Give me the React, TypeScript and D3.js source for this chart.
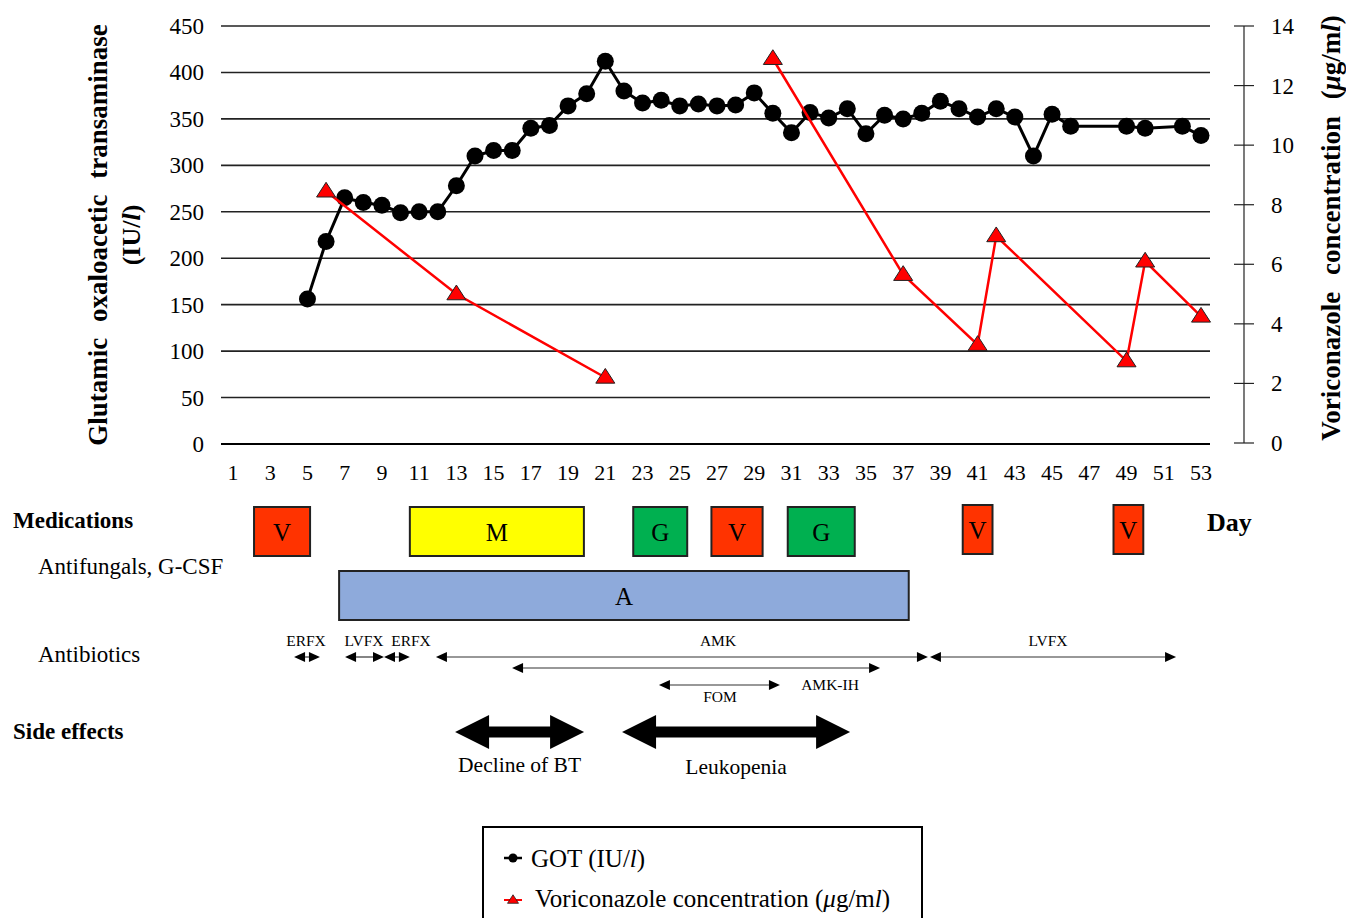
// Clinical course chart: GOT (left axis) and voriconazole level (right axis) over days,
// with medication / antibiotic / side-effect timelines drawn below.
import React from 'react';
import * as d3 from 'd3';

// GOT (IU/l) by day
const gotDays = [5, 6, 7, 8, 9, 10, 11, 12, 13, 14, 15, 16, 17, 18, 19, 20, 21, 22, 23, 24, 25, 26, 27, 28, 29, 30,
  31, 32, 33, 34, 35, 36, 37, 38, 39, 40, 41, 42, 43, 44, 45, 46, 49, 50, 52, 53];
const gotValues = [156, 218, 265, 260, 257, 249, 250, 250, 278, 310, 316, 316, 340, 343, 364, 377, 412, 380, 367, 370,
  364, 366, 364, 365, 378, 356, 335, 357, 351, 361, 334, 354, 350, 356, 369, 361, 352, 361, 352, 310, 355, 342, 342,
  340, 342, 332];

// voriconazole concentration (ug/ml) by day; the line is broken between the two courses
const vrczDays = [6, 13, 21, 30, 37, 41, 42, 49, 50, 53];
const vrczValues = [8.45, 5.0, 2.2, 12.9, 5.65, 3.3, 6.95, 2.75, 6.1, 4.25];
const vrczCourse = [0, 0, 0, 1, 1, 1, 1, 1, 1, 1];

const dayTicks = d3.range(1, 54, 2);
const gotTicks = d3.range(0, 451, 50);
const vrczTicks = d3.range(0, 15, 2);

// medications: label, start day, end day
const medLabels = ['V', 'M', 'G', 'V', 'G', 'V', 'V', 'A'];
const medStart = [2.13, 10.5, 22.5, 26.7, 30.8, 40.2, 48.3, 6.7];
const medEnd = [5.14, 19.85, 25.4, 29.45, 34.4, 41.8, 49.9, 37.3];

// antibiotics
const abLabels = ['ERFX', 'LVFX', 'ERFX', 'AMK', 'LVFX', 'AMK-IH', 'FOM'];
const abStart = [4.28, 7.02, 9.11, 11.9, 38.44, 15.99, 23.88];
const abEnd = [5.67, 9.11, 10.5, 38.33, 51.66, 35.76, 30.38];

// side effects
const seLabels = ['Decline of BT', 'Leukopenia'];
const seStart = [12.93, 21.9];
const seEnd = [19.86, 34.15];

const W = 1346;
const H = 918;
const serif = '"Times New Roman", "Liberation Serif", serif';

const medColor = { V: '#ff3300', M: '#ffff00', G: '#00b050', A: '#8eaadb' };

// layout for the antibiotic rows / labels
const abRowY = [657, 657, 657, 657, 657, 668, 685];
const abLabelX = [306, 364, 411, 718, 1048, 830, 720];
const abLabelY = [646, 646, 646, 646, 646, 690, 702];

export default function App() {
  const x = d3.scaleLinear().domain([1, 53]).range([233, 1201]);
  const yL = d3.scaleLinear().domain([0, 450]).range([444, 26]);
  const yR = d3.scaleLinear().domain([0, 14]).range([443, 26]);

  const gotLine = d3.line<number>().x((d, i) => x(gotDays[i])).y(d => yL(d));
  const vrczLine = d3.line<number>().x(i => x(vrczDays[i])).y(i => yR(vrczValues[i]));
  const courses = d3.groups(d3.range(vrczDays.length), i => vrczCourse[i]).map(g => g[1]);

  const tri = (cx: number, cy: number, s: number) =>
    `M${cx},${cy - s * 0.95} L${cx + s},${cy + s * 0.6} L${cx - s},${cy + s * 0.6} Z`;

  // thin double arrow for antibiotics
  const thinArrow = (x1: number, x2: number, y: number, key: string) => {
    const h = 5, l = 11;
    return (
      <g key={key}>
        <line x1={x1 + l} x2={x2 - l} y1={y} y2={y} stroke="#333" strokeWidth={1.2} />
        <path d={`M${x1},${y} L${x1 + l},${y - h} L${x1 + l},${y + h} Z`} fill="#000" />
        <path d={`M${x2},${y} L${x2 - l},${y - h} L${x2 - l},${y + h} Z`} fill="#000" />
      </g>
    );
  };

  // thick double arrow for side effects
  const bigArrow = (x1: number, x2: number, y: number) => {
    const hh = 17, sh = 5.5, l = 34;
    return `M${x1},${y} L${x1 + l},${y - hh} L${x1 + l},${y - sh} L${x2 - l},${y - sh} L${x2 - l},${y - hh} L${x2},${y}
      L${x2 - l},${y + hh} L${x2 - l},${y + sh} L${x1 + l},${y + sh} L${x1 + l},${y + hh} Z`;
  };

  return (
    <svg width={W} height={H} style={{ position: 'absolute', left: 0, top: 0, background: '#fff' }}
      fontFamily={serif}>
      {/* gridlines */}
      {gotTicks.map(t => (
        <line key={'g' + t} x1={221} x2={1210} y1={yL(t)} y2={yL(t)} stroke={t === 0 ? '#000' : '#222'}
          strokeWidth={t === 0 ? 2 : 1.6} />
      ))}
      {gotTicks.map(t => (
        <text key={'lt' + t} x={204} y={yL(t)} dy="0.35em" textAnchor="end" fontSize={23}>{t}</text>
      ))}
      {dayTicks.map(t => (
        <text key={'xt' + t} x={x(t)} y={480} textAnchor="middle" fontSize={22}>{t}</text>
      ))}

      {/* right axis */}
      <line x1={1244} x2={1244} y1={yR(14)} y2={yR(0)} stroke="#222" strokeWidth={1.2} />
      {vrczTicks.map(t => (
        <g key={'rt' + t}>
          <line x1={1234} x2={1254} y1={yR(t)} y2={yR(t)} stroke="#222" strokeWidth={1.2} />
          <text x={1271} y={yR(t)} dy="0.35em" fontSize={23}>{t}</text>
        </g>
      ))}

      {/* axis titles */}
      <text transform="translate(107,235) rotate(-90)" textAnchor="middle" fontSize={27} fontWeight="bold"
        wordSpacing={9}>Glutamic oxaloacetic transaminase</text>
      <text transform="translate(140,235) rotate(-90)" textAnchor="middle" fontSize={26} fontWeight="bold">
        (IU/<tspan fontStyle="italic">l</tspan>)
      </text>
      <text transform="translate(1340,228) rotate(-90)" textAnchor="middle" fontSize={27} fontWeight="bold"
        wordSpacing={10}>
        Voriconazole concentration (<tspan fontStyle="italic">μ</tspan>g/m<tspan fontStyle="italic">l</tspan>)
      </text>

      {/* series */}
      <path d={gotLine(gotValues) || ''} fill="none" stroke="#000" strokeWidth={3} />
      {gotValues.map((v, i) => (
        <circle key={'c' + i} cx={x(gotDays[i])} cy={yL(v)} r={8.5} fill="#000" />
      ))}
      {courses.map((idx, k) => (
        <path key={'vl' + k} d={vrczLine(idx) || ''} fill="none" stroke="#ff0000" strokeWidth={2.5} />
      ))}
      {vrczValues.map((v, i) => (
        <path key={'t' + i} d={tri(x(vrczDays[i]), yR(v), 9.5)} fill="#ff0000" stroke="#222" strokeWidth={1} />
      ))}

      {/* medications */}
      <text x={13} y={528} fontSize={23} fontWeight="bold">Medications</text>
      <text x={38} y={574} fontSize={23}>Antifungals, G-CSF</text>
      <text x={1207} y={531} fontSize={26} fontWeight="bold">Day</text>
      {medLabels.map((m, i) => {
        const isA = m === 'A';
        const narrow = medEnd[i] - medStart[i] < 2;
        const y0 = isA ? 571 : narrow ? 505 : 507;
        const h = 49;
        const x0 = x(medStart[i]);
        const x1 = x(medEnd[i]);
        return (
          <g key={'m' + i}>
            <rect x={x0} y={y0} width={x1 - x0} height={h} fill={medColor[m]} stroke="#222" strokeWidth={2} />
            <text x={(x0 + x1) / 2} y={y0 + h / 2 + 9} textAnchor="middle" fontSize={25}>{m}</text>
          </g>
        );
      })}

      {/* antibiotics */}
      <text x={38} y={662} fontSize={23}>Antibiotics</text>
      {abLabels.map((lab, i) => thinArrow(x(abStart[i]), x(abEnd[i]), abRowY[i], 'a' + i))}
      {abLabels.map((lab, i) => (
        <text key={'al' + i} x={abLabelX[i]} y={abLabelY[i]} textAnchor="middle" fontSize={15.5}>{lab}</text>
      ))}

      {/* side effects */}
      <text x={13} y={739} fontSize={23} fontWeight="bold">Side effects</text>
      {seLabels.map((lab, i) => (
        <g key={'s' + i}>
          <path d={bigArrow(x(seStart[i]), x(seEnd[i]), 732)} fill="#000" />
          <text x={(x(seStart[i]) + x(seEnd[i])) / 2} y={i === 0 ? 772 : 774} textAnchor="middle"
            fontSize={21.5}>{lab}</text>
        </g>
      ))}

      {/* legend */}
      <rect x={483} y={827} width={439} height={110} fill="#fff" stroke="#000" strokeWidth={2} />
      <line x1={504} x2={522} y1={858} y2={858} stroke="#000" strokeWidth={2.5} />
      <circle cx={513} cy={858} r={4.5} fill="#000" />
      <text x={531} y={867} fontSize={25}>GOT (IU/<tspan fontStyle="italic">l</tspan>)</text>
      <line x1={504} x2={522} y1={900} y2={900} stroke="#ff0000" strokeWidth={2} />
      <path d={tri(513, 900, 5.5)} fill="#ff0000" stroke="#222" strokeWidth={0.8} />
      <text x={535} y={907} fontSize={25}>
        Voriconazole concentration (<tspan fontStyle="italic">μ</tspan>g/m<tspan fontStyle="italic">l</tspan>)
      </text>
    </svg>
  );
}
